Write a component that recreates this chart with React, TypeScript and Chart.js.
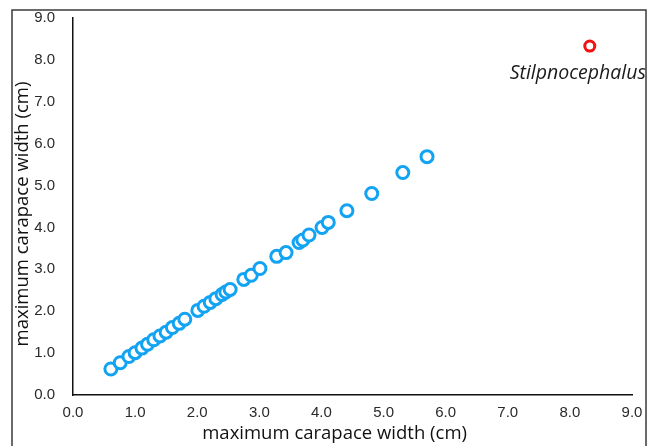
import { useEffect, useRef } from "react";
import { Chart, registerables } from "chart.js";

Chart.register(...registerables);

const mainX = [0.61, 0.76, 0.9, 1.0, 1.11, 1.2, 1.3, 1.4, 1.5, 1.6, 1.71, 1.8, 2.01, 2.11, 2.21, 2.3, 2.4, 2.46, 2.53, 2.75, 2.87, 3.01, 3.28, 3.43, 3.64, 3.7, 3.8, 4.01, 4.11, 4.41, 4.81, 5.31, 5.7];
const mainY = [0.62, 0.77, 0.92, 1.01, 1.12, 1.21, 1.32, 1.41, 1.5, 1.61, 1.71, 1.81, 2.02, 2.12, 2.21, 2.3, 2.4, 2.46, 2.52, 2.76, 2.86, 3.02, 3.31, 3.4, 3.64, 3.7, 3.82, 4.0, 4.12, 4.4, 4.81, 5.31, 5.69];
const outlierX = [8.32];
const outlierY = [8.33];
const outlierLabel = "Stilpnocephalus";
const axisTitle = "maximum carapace width (cm)";
const axisMin = 0;
const axisMax = 9;
const axisStep = 1;

const framePlugin = {
  id: "frame",
  afterDraw(chart: any) {
    const ctx = chart.ctx;
    const area = chart.chartArea;
    ctx.save();
    ctx.strokeStyle = "#3a3a3a";
    ctx.lineWidth = 1.5;
    ctx.beginPath();
    ctx.moveTo(12, chart.height);
    ctx.lineTo(12, 10);
    ctx.lineTo(646, 10);
    ctx.lineTo(646, chart.height);
    ctx.stroke();
    const xs = chart.scales.x;
    const ys = chart.scales.y;
    const px = xs.getPixelForValue(outlierX[0]);
    const py = ys.getPixelForValue(outlierY[0]);
    ctx.font = "italic 19.5px 'Open Sans'";
    ctx.fillStyle = "#1a1a1a";
    ctx.textAlign = "center";
    ctx.textBaseline = "middle";
    ctx.fillText(outlierLabel, px - 12, py + 27);
    // x-axis title
    ctx.font = "18.5px 'Open Sans'";
    ctx.fillStyle = "#111";
    ctx.fillText(axisTitle, area.left + (area.right - area.left) * 0.468, chart.height - 12);
    // y-axis title
    ctx.save();
    ctx.translate(23, area.top + (area.bottom - area.top) * 0.52);
    ctx.rotate(-Math.PI / 2);
    ctx.fillText(axisTitle, 0, 0);
    ctx.restore();
    ctx.restore();
  },
};

export default function App() {
  const ref = useRef<HTMLCanvasElement>(null);
  useEffect(() => {
    document.body.style.margin = "0";
    const chart = new Chart(ref.current!, {
      type: "scatter",
      data: {
        datasets: [
          {
            data: mainX.map((x, i) => ({ x, y: mainY[i] })),
            pointRadius: 6,
            pointBorderWidth: 3,
            borderColor: "#12a3f2",
            backgroundColor: "#ffffff",
          },
          {
            data: outlierX.map((x, i) => ({ x, y: outlierY[i] })),
            pointRadius: 5,
            pointBorderWidth: 3,
            borderColor: "#f21010",
            backgroundColor: "#ffffff",
          },
        ],
      },
      options: {
        animation: false,
        responsive: false,
        layout: { padding: { left: 12, top: 18, right: 28, bottom: 0 } },
        plugins: { legend: { display: false }, tooltip: { enabled: false } },
        scales: {
          x: {
            type: "linear",
            min: axisMin,
            max: axisMax,
            ticks: {
              stepSize: axisStep,
              padding: 9,
              color: "#2a2a2a",
              font: { family: "'Liberation Sans', Arial", size: 15 },
              callback: (v: any) => Number(v).toFixed(1),
            },
            grid: { display: false, drawTicks: false },
            border: { display: true, color: "#111", width: 1.5 },
            title: { display: false },
            afterFit: (s: any) => {
              s.height = 51;
            },
          },
          y: {
            type: "linear",
            min: axisMin,
            max: axisMax,
            ticks: {
              stepSize: axisStep,
              padding: 18,
              color: "#2a2a2a",
              font: { family: "'Liberation Sans', Arial", size: 15 },
              callback: (v: any) => Number(v).toFixed(1),
            },
            grid: { display: false, drawTicks: false },
            border: { display: true, color: "#111", width: 1.5 },
            title: { display: false },
            afterFit: (s: any) => {
              s.width = 61;
              s.paddingTop = 0;
              s.paddingBottom = 0;
            },
          },
        },
      },
      plugins: [framePlugin],
    });
    return () => chart.destroy();
  }, []);
  return (
    <div style={{ position: "fixed", left: 0, top: 0, width: 660, height: 446, background: "#fff" }}>
      <canvas ref={ref} width={660} height={446} style={{ display: "block" }} />
    </div>
  );
}
